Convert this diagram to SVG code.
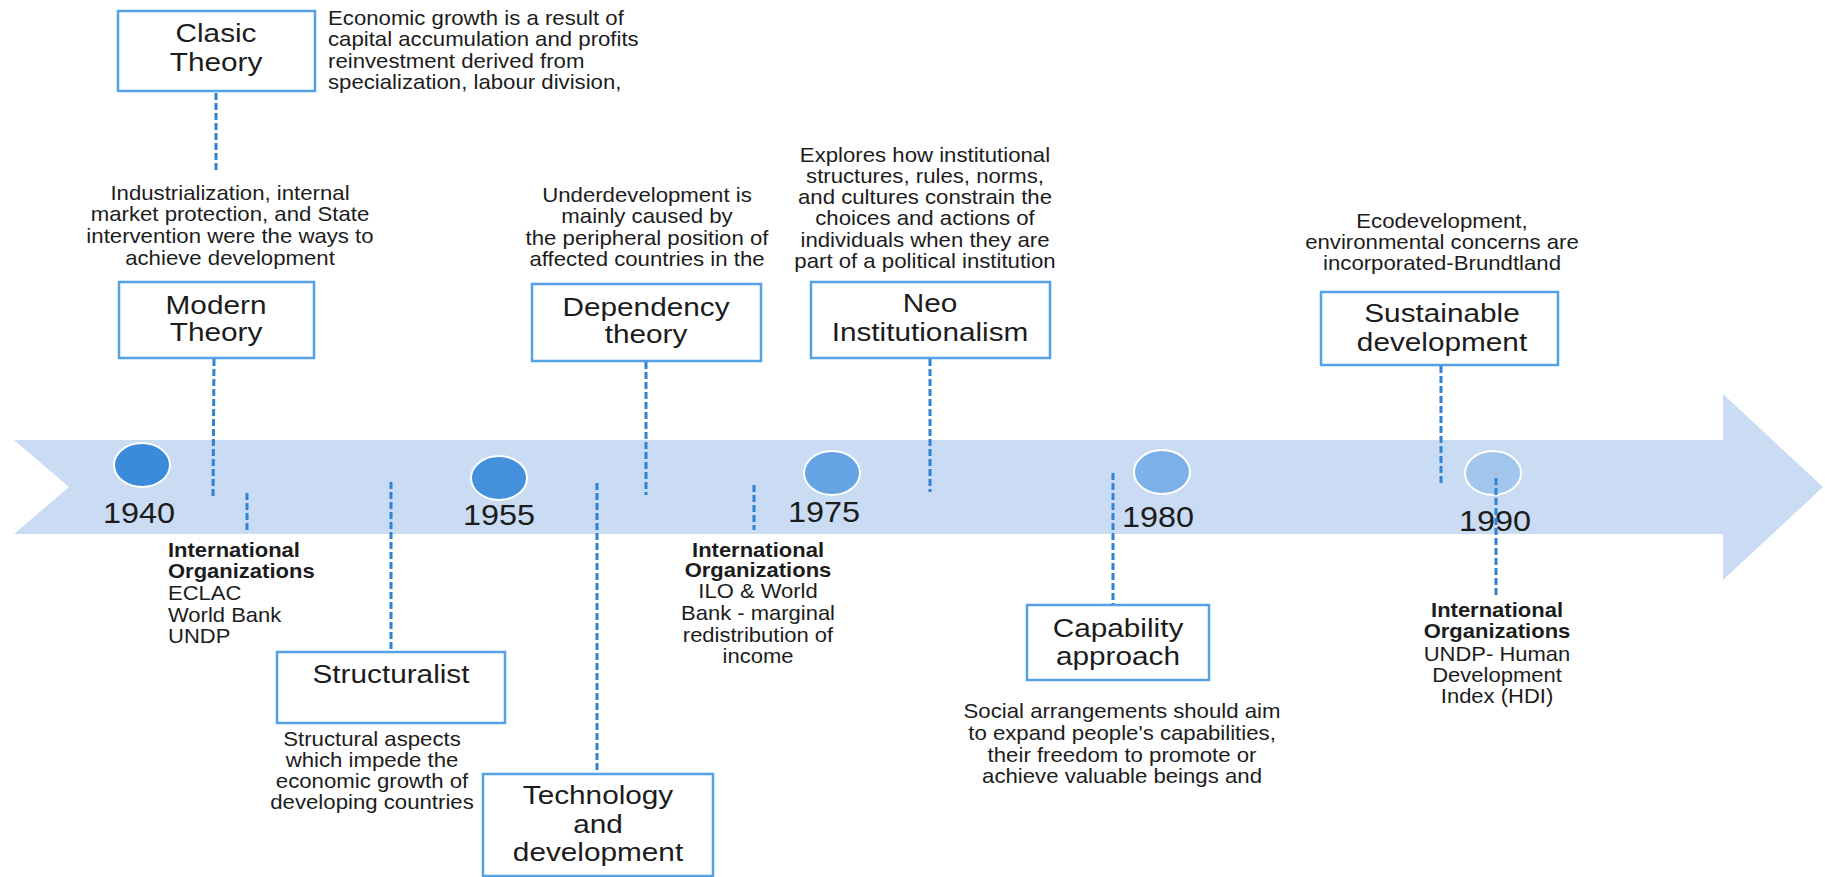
<svg xmlns="http://www.w3.org/2000/svg" width="1825" height="877" viewBox="0 0 1825 877">
  <style>
    .txt { font-family: "Liberation Sans", Arial, sans-serif; fill: #1c1c1c; }
    .desc { font-size: 20px; }
    .title { font-size: 25px; }
    .year { font-size: 30px; }
    .mid { text-anchor: middle; }
    .bold { font-weight: bold; }
    .box { fill: #ffffff; stroke: #55a1e6; stroke-width: 2.5; }
    .dash { stroke: #2f82d4; stroke-width: 3; stroke-dasharray: 7 3; fill: none; }
    .dot { stroke: #ffffff; stroke-width: 2; }
  </style>

  <rect width="1825" height="877" fill="#ffffff"/>

  <!-- timeline band with notched tail and arrow head -->
  <polygon id="timeline" fill="#cadcf4" points="14,440 1723,440 1723,394 1823,487 1723,580 1723,534 14,534 69,487"/>

  <!-- year markers -->
  <g id="y1940">
    <ellipse class="dot" cx="142" cy="465" rx="28" ry="22" fill="#3b8bdb"/>
    <g transform="translate(139 0) scale(1.08 1)"><text class="txt year mid" y="523">1940</text></g>
  </g>
  <g id="y1955">
    <ellipse class="dot" cx="499" cy="478" rx="28" ry="22" fill="#4490dc"/>
    <g transform="translate(499 0) scale(1.08 1)"><text class="txt year mid" y="525">1955</text></g>
  </g>
  <g id="y1975">
    <ellipse class="dot" cx="832" cy="473" rx="28" ry="22" fill="#64a3e4"/>
    <g transform="translate(824 0) scale(1.08 1)"><text class="txt year mid" y="522">1975</text></g>
  </g>
  <g id="y1980">
    <ellipse class="dot" cx="1162" cy="472" rx="28" ry="22" fill="#7cb1ea"/>
    <g transform="translate(1158 0) scale(1.08 1)"><text class="txt year mid" y="527">1980</text></g>
  </g>
  <g id="y1990">
    <ellipse class="dot" cx="1493" cy="473" rx="28" ry="22" fill="#a2c6ee"/>
    <g transform="translate(1495 0) scale(1.08 1)"><text class="txt year mid" y="531">1990</text></g>
  </g>

  <!-- theory boxes -->
  <g id="clasic">
    <rect class="box" x="118" y="11" width="197" height="80"/>
    <g transform="translate(216 0) scale(1.19 1)">
      <text class="txt title mid" y="42">Clasic</text>
      <text class="txt title mid" y="71">Theory</text>
    </g>
  </g>
  <g id="clasic-note">
    <g transform="translate(328 0) scale(1.11 1)">
      <text class="txt desc" y="25">Economic growth is a result of</text>
      <text class="txt desc" y="46">capital accumulation and profits</text>
      <text class="txt desc" y="68">reinvestment derived from</text>
      <text class="txt desc" y="89">specialization, labour division,</text>
    </g>
  </g>

  <g id="modern-note">
    <g transform="translate(230 0) scale(1.11 1)">
      <text class="txt desc mid" y="200">Industrialization, internal</text>
      <text class="txt desc mid" y="221">market protection, and State</text>
      <text class="txt desc mid" y="243">intervention were the ways to</text>
      <text class="txt desc mid" y="265">achieve development</text>
    </g>
  </g>
  <g id="modern">
    <rect class="box" x="119" y="282" width="195" height="76"/>
    <g transform="translate(216 0) scale(1.19 1)">
      <text class="txt title mid" y="314">Modern</text>
      <text class="txt title mid" y="341">Theory</text>
    </g>
  </g>

  <g id="dependency-note">
    <g transform="translate(647 0) scale(1.11 1)">
      <text class="txt desc mid" y="202">Underdevelopment is</text>
      <text class="txt desc mid" y="223">mainly caused by</text>
      <text class="txt desc mid" y="245">the peripheral position of</text>
      <text class="txt desc mid" y="266">affected countries in the</text>
    </g>
  </g>
  <g id="dependency">
    <rect class="box" x="532" y="284" width="229" height="77"/>
    <g transform="translate(646 0) scale(1.19 1)">
      <text class="txt title mid" y="316">Dependency</text>
      <text class="txt title mid" y="343">theory</text>
    </g>
  </g>

  <g id="neo-note">
    <g transform="translate(925 0) scale(1.11 1)">
      <text class="txt desc mid" y="162">Explores how institutional</text>
      <text class="txt desc mid" y="183">structures, rules, norms,</text>
      <text class="txt desc mid" y="204">and cultures constrain the</text>
      <text class="txt desc mid" y="225">choices and actions of</text>
      <text class="txt desc mid" y="247">individuals when they are</text>
      <text class="txt desc mid" y="268">part of a political institution</text>
    </g>
  </g>
  <g id="neo">
    <rect class="box" x="811" y="282" width="239" height="76"/>
    <g transform="translate(930 0) scale(1.19 1)">
      <text class="txt title mid" y="312">Neo</text>
      <text class="txt title mid" y="341">Institutionalism</text>
    </g>
  </g>

  <g id="sustainable-note">
    <g transform="translate(1442 0) scale(1.11 1)">
      <text class="txt desc mid" y="228">Ecodevelopment,</text>
      <text class="txt desc mid" y="249">environmental concerns are</text>
      <text class="txt desc mid" y="270">incorporated-Brundtland</text>
    </g>
  </g>
  <g id="sustainable">
    <rect class="box" x="1321" y="292" width="237" height="73"/>
    <g transform="translate(1442 0) scale(1.19 1)">
      <text class="txt title mid" y="322">Sustainable</text>
      <text class="txt title mid" y="351">development</text>
    </g>
  </g>

  <g id="structuralist">
    <rect class="box" x="277" y="652" width="228" height="71"/>
    <g transform="translate(391 0) scale(1.19 1)">
      <text class="txt title mid" y="683">Structuralist</text>
    </g>
  </g>
  <g id="structuralist-note">
    <g transform="translate(372 0) scale(1.11 1)">
      <text class="txt desc mid" y="746">Structural aspects</text>
      <text class="txt desc mid" y="767">which impede the</text>
      <text class="txt desc mid" y="788">economic growth of</text>
      <text class="txt desc mid" y="809">developing countries</text>
    </g>
  </g>

  <g id="technology">
    <rect class="box" x="483" y="774" width="230" height="102"/>
    <g transform="translate(598 0) scale(1.19 1)">
      <text class="txt title mid" y="804">Technology</text>
      <text class="txt title mid" y="833">and</text>
      <text class="txt title mid" y="861">development</text>
    </g>
  </g>

  <g id="capability">
    <rect class="box" x="1027" y="605" width="182" height="75"/>
    <g transform="translate(1118 0) scale(1.19 1)">
      <text class="txt title mid" y="637">Capability</text>
      <text class="txt title mid" y="665">approach</text>
    </g>
  </g>
  <g id="capability-note">
    <g transform="translate(1122 0) scale(1.11 1)">
      <text class="txt desc mid" y="718">Social arrangements should aim</text>
      <text class="txt desc mid" y="740">to expand people's capabilities,</text>
      <text class="txt desc mid" y="762">their freedom to promote or</text>
      <text class="txt desc mid" y="783">achieve valuable beings and</text>
    </g>
  </g>

  <!-- international organizations -->
  <g id="orgs-1940">
    <g transform="translate(168 0) scale(1.1 1)">
      <text class="txt desc bold" y="557">International</text>
      <text class="txt desc bold" y="578">Organizations</text>
      <text class="txt desc" y="600">ECLAC</text>
      <text class="txt desc" y="622">World Bank</text>
      <text class="txt desc" y="643">UNDP</text>
    </g>
  </g>
  <g id="orgs-1975">
    <g transform="translate(758 0) scale(1.1 1)">
      <text class="txt desc mid bold" y="557">International</text>
      <text class="txt desc mid bold" y="577">Organizations</text>
      <text class="txt desc mid" y="598">ILO &amp; World</text>
      <text class="txt desc mid" y="620">Bank - marginal</text>
      <text class="txt desc mid" y="642">redistribution of</text>
      <text class="txt desc mid" y="663">income</text>
    </g>
  </g>
  <g id="orgs-1990">
    <g transform="translate(1497 0) scale(1.1 1)">
      <text class="txt desc mid bold" y="617">International</text>
      <text class="txt desc mid bold" y="638">Organizations</text>
      <text class="txt desc mid" y="661">UNDP- Human</text>
      <text class="txt desc mid" y="682">Development</text>
      <text class="txt desc mid" y="703">Index (HDI)</text>
    </g>
  </g>

  <!-- dashed connectors -->
  <g id="connectors">
    <line class="dash" x1="216" y1="93" x2="216" y2="173"/>
    <line class="dash" x1="214" y1="359" x2="213" y2="499"/>
    <line class="dash" x1="247" y1="493" x2="247" y2="530"/>
    <line class="dash" x1="391" y1="482" x2="391" y2="651"/>
    <line class="dash" x1="597" y1="483" x2="597" y2="773"/>
    <line class="dash" x1="646" y1="362" x2="646" y2="495"/>
    <line class="dash" x1="754" y1="485" x2="754" y2="530"/>
    <line class="dash" x1="930" y1="359" x2="930" y2="492"/>
    <line class="dash" x1="1113" y1="473" x2="1113" y2="604"/>
    <line class="dash" x1="1441" y1="366" x2="1441" y2="483"/>
    <line class="dash" x1="1496" y1="478" x2="1496" y2="597"/>
  </g>
</svg>
